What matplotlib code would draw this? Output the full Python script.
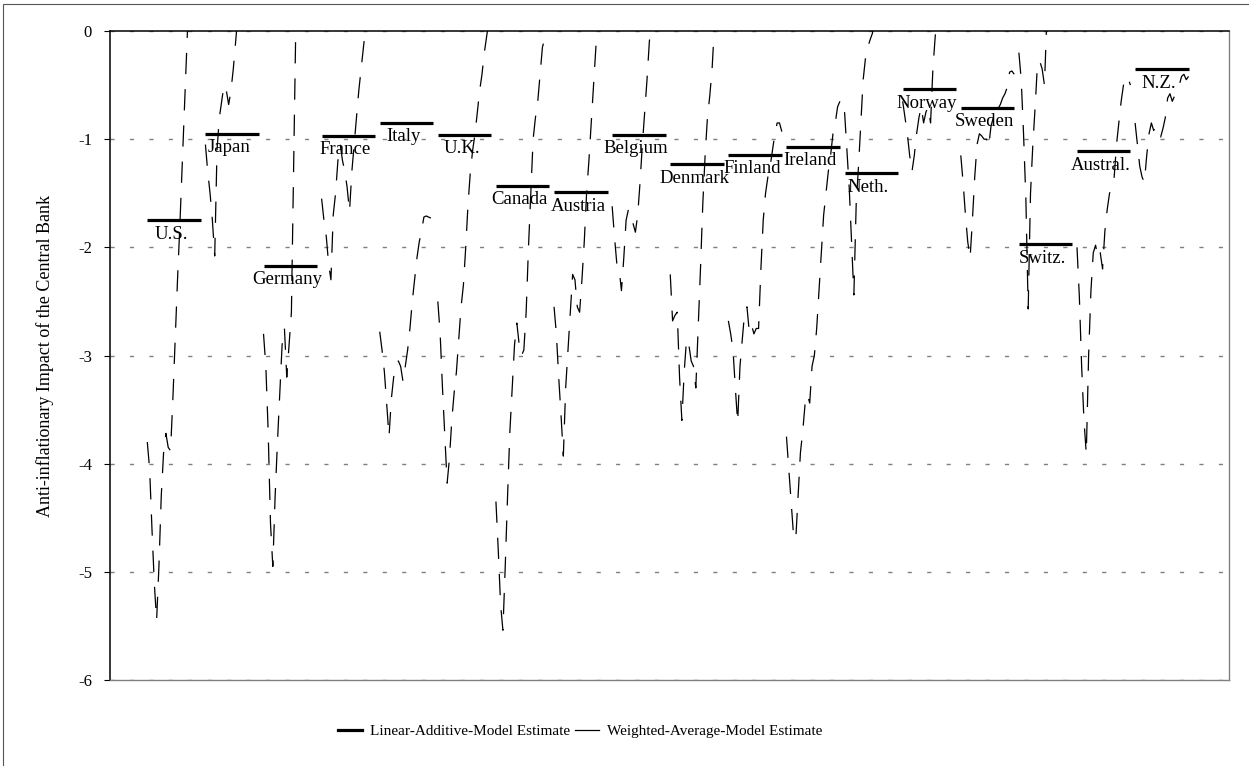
import matplotlib
matplotlib.use("Agg")
import matplotlib.pyplot as plt
from matplotlib.lines import Line2D
from matplotlib.patches import Rectangle
import numpy as np

plt.rcParams['font.family'] = ['Liberation Serif', 'DejaVu Serif']
plt.rcParams['axes.unicode_minus'] = False

countries = ["U.S.", "Japan", "Germany", "France", "Italy", "U.K.", "Canada",
             "Austria", "Belgium", "Denmark", "Finland", "Ireland", "Neth.",
             "Norway", "Sweden", "Switz.", "Austral.", "N.Z."]

# linear-additive model: one estimate per country
linear_additive = [-1.75, -0.95, -2.17, -0.97, -0.85, -0.96, -1.43, -1.49, -0.96,
                   -1.23, -1.145, -1.07, -1.315, -0.54, -0.71, -1.97, -1.11, -0.355]

# weighted-average model: estimates per period for each country
wa_us = [-3.80, -4.05, -4.60, -5.10, -5.45, -4.95, -4.30, -3.90, -3.72, -3.85,
         -3.88, -3.40, -2.85, -2.30, -1.80, -1.25, -0.70, -0.15, 0.40]
wa_japan = [-1.05, -1.30, -1.50, -1.75, -2.08, -1.10, -0.80, -0.65, -0.50, -0.55,
            -0.68, -0.55, -0.35, -0.10, 0.15]
wa_germany = [-2.80, -3.10, -3.70, -4.55, -4.95, -4.30, -3.80, -3.35, -2.90, -2.75,
              -3.20, -2.90, -2.60, -1.20, 0.20]
wa_france = [-1.55, -1.75, -1.90, -2.15, -2.30, -1.70, -1.50, -1.20, -1.05, -1.20,
             -1.30, -1.45, -1.67, -1.30, -1.05, -0.80, -0.55, -0.35, -0.15, 0.05]
wa_italy = [-2.78, -2.95, -3.15, -3.45, -3.75, -3.40, -3.20, -3.10, -3.05, -3.10,
            -3.24, -3.10, -2.95, -2.75, -2.50, -2.30, -2.10, -1.95, -1.85, -1.72,
            -1.71, -1.72, -1.73]
wa_uk = [-2.50, -2.80, -3.30, -3.75, -4.18, -3.95, -3.60, -3.35, -3.15, -2.85,
         -2.55, -2.35, -2.00, -1.60, -1.30, -1.10, -0.95, -0.75, -0.55, -0.40,
         -0.20, -0.05, 0.10]
wa_canada = [-4.35, -4.80, -5.30, -5.54, -4.95, -4.30, -3.70, -3.30, -2.90, -2.70,
             -2.90, -3.00, -2.95, -2.60, -2.00, -1.50, -1.00, -0.80, -0.65, -0.40,
             -0.15, -0.07, -0.05, 0.10]
wa_austria = [-2.55, -2.80, -3.20, -3.55, -3.93, -3.30, -2.95, -2.60, -2.25, -2.30,
              -2.55, -2.60, -2.30, -1.95, -1.50, -1.20, -0.85, -0.50, -0.15, 0.05]
wa_belgium = [-1.62, -1.90, -2.15, -2.20, -2.40, -2.10, -1.75, -1.65, -1.70, -1.78,
              -1.86, -1.70, -1.40, -1.05, -0.75, -0.45, -0.10, 0.10]
wa_denmark = [-2.25, -2.68, -2.63, -2.60, -3.20, -3.60, -3.15, -2.85, -2.90, -3.05,
              -3.10, -3.30, -2.75, -2.20, -1.60, -1.15, -0.80, -0.60, -0.35, 0.05]
wa_finland = [-2.68, -2.80, -2.95, -3.30, -3.62, -3.10, -2.85, -2.60, -2.55, -2.78,
              -2.72, -2.80, -2.75, -2.75, -2.20, -1.75, -1.50, -1.35, -1.25, -1.10,
              -0.95, -0.85, -0.85, -0.93]
wa_ireland = [-3.75, -4.05, -4.35, -4.65, -4.70, -4.30, -3.90, -3.70, -3.45, -3.36,
              -3.44, -3.10, -3.00, -2.75, -2.40, -2.05, -1.70, -1.50, -1.30, -1.15,
              -0.95, -0.85, -0.70, -0.65]
wa_neth = [-0.75, -1.10, -1.45, -1.95, -2.44, -1.60, -1.25, -0.85, -0.45, -0.25,
           -0.15, -0.08, -0.02, 0.10]
wa_norway = [-0.65, -0.80, -0.95, -1.15, -1.30, -1.15, -0.95, -0.80, -0.70, -0.85,
             -0.75, -0.70, -0.85, -0.35, -0.05, 0.20]
wa_sweden = [-1.15, -1.40, -1.70, -1.95, -2.10, -1.75, -1.35, -1.05, -0.95, -0.97,
             -1.00, -1.00, -1.07, -0.88, -0.80, -0.70, -0.72, -0.68, -0.62, -0.58,
             -0.52, -0.38, -0.37, -0.40]
wa_switz = [-0.20, -0.45, -0.95, -1.55, -2.57, -1.50, -1.05, -0.70, -0.30, -0.28,
            -0.35, -0.50, 0.10]
wa_austral = [-2.00, -2.45, -3.10, -3.60, -3.91, -3.00, -2.40, -2.05, -1.98, -2.10,
              -2.05, -2.20, -1.85, -1.65, -1.50, -1.45, -1.35, -1.05, -0.85, -0.65,
              -0.50, -0.42, -0.44, -0.50]
wa_nz = [-0.85, -1.05, -1.25, -1.35, -1.40, -1.15, -0.95, -0.85, -0.92, -0.88,
         -0.93, -0.98, -0.90, -0.80, -0.62, -0.58, -0.65, -0.60, -0.55, -0.50,
         -0.42, -0.40, -0.45, -0.42]

weighted_average = [wa_us, wa_japan, wa_germany, wa_france, wa_italy, wa_uk,
                    wa_canada, wa_austria, wa_belgium, wa_denmark, wa_finland,
                    wa_ireland, wa_neth, wa_norway, wa_sweden, wa_switz,
                    wa_austral, wa_nz]

periods = 24          # periods per country block
block = periods + 1   # one empty slot between countries

# one continuous series with gaps between countries
xs, ys = [], []
for i, vals in enumerate(weighted_average):
    xs.extend(i * block + np.arange(len(vals)))
    ys.extend(vals)
    xs.append(np.nan)
    ys.append(np.nan)

fig = plt.figure(figsize=(12.49, 7.66), dpi=100)
ax = fig.add_axes([110 / 1249, 86 / 766, 1119 / 1249, 649 / 766])

ax.plot(xs, ys, color='black', linewidth=0.9, linestyle=(0, (17, 12)),
        solid_capstyle='butt', dash_capstyle='butt')

starts = [i * block for i in range(len(countries))]
ends = [s + periods - 1 for s in starts]
ax.hlines(linear_additive, starts, ends, colors='black', linewidth=2.3)

for s, e, v, name in zip(starts, ends, linear_additive, countries):
    ax.annotate(name, xy=((s + e) / 2, v), xytext=(-2, -4),
                textcoords='offset points', ha='center', va='top', fontsize=13.5)

ax.set_xlim(-16.05, 465.4)
ax.set_ylim(-6, 0)
ax.set_yticks(range(-6, 1))
ax.set_yticklabels([str(t) for t in range(-6, 1)])
ax.set_xticks([])
ax.tick_params(axis='y', direction='out', length=4, width=0.8, pad=9, labelsize=12)
ax.yaxis.grid(True, color='#808080', linestyle=(0, (3, 11)), linewidth=1.0)
ax.set_axisbelow(True)

ax.set_ylabel("Anti-inflationary Impact of the Central Bank", fontsize=13)
ax.yaxis.set_label_coords(-0.05, 0.5)

for side in ['top', 'left']:
    ax.spines[side].set_color('black')
    ax.spines[side].set_linewidth(1.1)
for side in ['right', 'bottom']:
    ax.spines[side].set_color('#808080')
    ax.spines[side].set_linewidth(1.0)

handles = [Line2D([], [], color='black', linewidth=2.3),
           Line2D([], [], color='black', linewidth=0.9)]
labels = ["Linear-Additive-Model Estimate", "Weighted-Average-Model Estimate"]
fig.legend(handles, labels, loc='center', bbox_to_anchor=(580 / 1249, 1 - 731 / 766),
           ncol=2, frameon=False, fontsize=11, handlelength=1.6,
           handletextpad=0.5, columnspacing=0.3)

# outer chart frame
fig.add_artist(Rectangle((3 / 1249, -0.05), 1.1, 1.05 - 4 / 766,
                         transform=fig.transFigure, fill=False,
                         edgecolor='#555555', linewidth=0.8))

plt.savefig('out.png', dpi=100)
